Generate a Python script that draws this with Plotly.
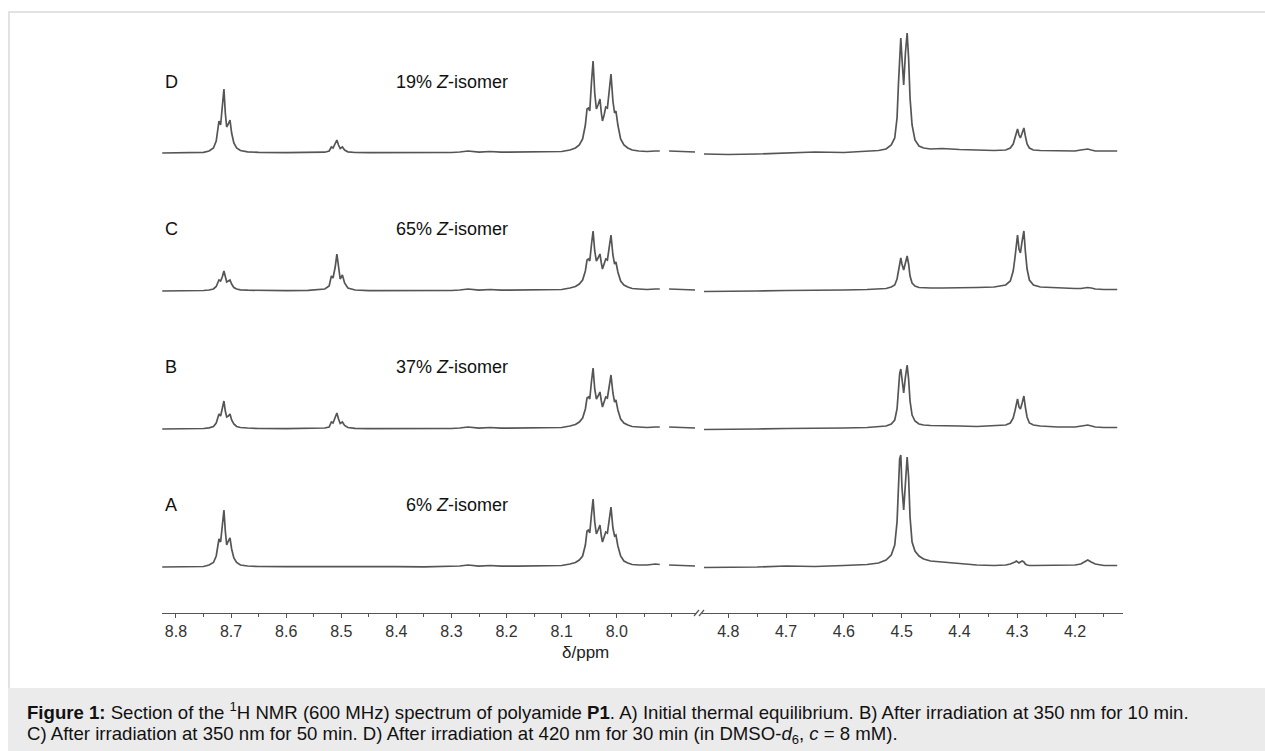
import plotly.graph_objects as go

# ---------------- data ----------------
spectrum_names = ["A", "B", "C", "D"]
isomer_labels = ["6% <i>Z</i>-isomer", "37% <i>Z</i>-isomer", "65% <i>Z</i>-isomer", "19% <i>Z</i>-isomer"]

# aromatic region (left panel), chemical shift in ppm (None = small gap in the trace)
left_ppm = [
    8.825, 8.80, 8.77, 8.75,
    8.74, 8.732, 8.727, 8.724, 8.722, 8.719, 8.716, 8.713, 8.7105, 8.708, 8.705, 8.702, 8.699, 8.695, 8.690, 8.683, 8.67,
    8.65, 8.60, 8.56,
    8.53, 8.522, 8.518, 8.515, 8.511, 8.508, 8.505, 8.502, 8.498, 8.494, 8.488, 8.475,
    8.45, 8.40, 8.35, 8.30, 8.285, 8.27, 8.25, 8.23, 8.21, 8.18, 8.14,
    8.10, 8.085, 8.075, 8.068, 8.062, 8.057, 8.054, 8.0515, 8.049, 8.046, 8.043, 8.040, 8.037, 8.034, 8.0305,
    8.028, 8.026, 8.023, 8.020, 8.017, 8.0135, 8.0105, 8.007, 8.004, 8.0015, 7.998, 7.993, 7.987, 7.980, 7.972,
    7.96, 7.945, 7.93, 7.922,
    None, 7.905, 7.89, 7.875, 7.858,
]
A_left = [
    0, 0, 0.3, 0.5,
    2, 4.5, 11, 22, 28, 25, 40, 57, 36, 22, 26, 29, 18, 9, 4.5, 2, 1,
    0.5, 0.3, 0.4,
    0.5, 0.6, 0.8, 1, 1, 1.2, 1, 0.8, 0.6, 0.5, 0.4, 0.3,
    0.3, 0.3, 0.2, 0.5, 1, 2, 0.8, 1.5, 0.8, 0.8, 1,
    1.5, 3, 4.5, 7, 11, 22, 36, 37, 34, 52, 68, 45, 33, 37, 42,
    31, 25, 30, 35, 34, 50, 60, 39, 31, 32, 21, 11, 6, 4, 2.5,
    2, 2, 3, 2.5,
    None, 2, 1.5, 1.5, 1,
]
B_left = [
    0, 0, 0.3, 0.5,
    1.2, 2.5, 6, 12, 15, 13, 20, 28, 18, 12, 13, 15, 9, 5, 2.5, 1.5, 1,
    0.5, 0.3, 0.5,
    1, 2, 7, 6, 11, 16, 10, 5.5, 7, 3.5, 1.5, 0.6,
    0.3, 0.3, 0.2, 0.5, 1, 2, 0.8, 1.5, 0.8, 0.8, 1,
    1.5, 3, 4.5, 7, 11, 20, 31, 32, 30, 47, 61, 40, 30, 33, 37,
    28, 22, 27, 32, 31, 45, 54, 36, 27, 29, 19, 10, 6, 4, 2.5,
    2, 1.5, 2, 2,
    None, 2, 1.5, 1.5, 1,
]
C_left = [
    0, 0, 0.3, 0.5,
    1, 2, 4.5, 9, 11, 10, 14, 20, 13, 9, 10, 11, 7, 3.5, 2, 1.2, 0.8,
    0.5, 0.4, 0.6,
    2, 5, 15, 13, 24, 37, 22, 12, 16, 8, 3, 1,
    0.3, 0.3, 0.2, 0.5, 1, 2, 0.8, 1.5, 0.8, 0.8, 1,
    1.5, 3, 4.5, 7, 11, 20, 31, 32, 30, 46, 60, 40, 30, 33, 37,
    28, 22, 27, 32, 31, 46, 56, 36, 27, 29, 19, 10, 6, 4, 2.5,
    2, 1.5, 2, 2,
    None, 2, 1.5, 1.5, 1,
]
D_left = [
    0, 0, 0.3, 0.6,
    2, 5, 12, 25, 32, 28, 45, 64, 40, 26, 29, 33, 20, 10, 5, 2.5, 1.2,
    0.6, 0.3, 0.5,
    0.8, 2, 6, 5, 9, 13, 8, 4.5, 6, 3, 1.2, 0.5,
    0.3, 0.3, 0.2, 0.5, 1, 2, 0.8, 1.5, 0.8, 0.8, 1,
    1.5, 3, 5, 8, 14, 28, 44, 45, 42, 70, 92, 60, 44, 48, 54,
    40, 32, 38, 46, 45, 66, 79, 52, 40, 42, 28, 14, 8, 5, 3,
    2, 1.5, 2, 2,
    None, 2, 1.5, 1.5, 1,
]

# aliphatic region (right panel)
right_ppm = [
    4.842, 4.80, 4.75, 4.70, 4.65, 4.60, 4.56, 4.54,
    4.527, 4.518, 4.512, 4.508, 4.5055, 4.5035, 4.5015, 4.4995, 4.4965, 4.4935, 4.4905, 4.488, 4.4855, 4.482, 4.477, 4.470, 4.462,
    4.45, 4.43, 4.40, 4.37, 4.34, 4.32,
    4.312, 4.307, 4.304, 4.3015, 4.2995, 4.297, 4.2945, 4.2915, 4.2885, 4.286, 4.283, 4.279, 4.272,
    4.26, 4.23, 4.20, 4.19, 4.183, 4.178, 4.172, 4.165, 4.15, 4.127,
]
A_right = [
    -0.5, -0.5, 0, 1, 0.5, 1.5, 2.5, 4,
    7, 12, 22, 45, 80, 108, 112, 80, 57, 85, 110, 90, 50, 25, 16, 11, 8,
    6, 5, 3, 2, 1.5, 2,
    3, 4, 5, 6, 5, 4, 5, 6, 5, 3, 2, 1.5, 1.5,
    1.5, 1.5, 2, 3, 5, 7, 5, 3, 1.5, 1.5,
]
B_right = [
    -0.5, -0.5, 0, 0.5, 0.5, 1, 1.5, 2,
    3, 5, 9, 20, 40, 55, 60, 48, 36, 52, 64, 50, 28, 14, 8, 5, 4,
    3.5, 3, 3, 2.5, 3, 4,
    6, 11, 18, 27, 30, 22, 20, 26, 33, 22, 12, 6, 4,
    3, 2, 2, 2.5, 3.5, 4, 3, 2, 1.5, 1.5,
]
C_right = [
    -0.5, -0.5, 0, 0.5, 0.5, 1, 1.5, 2,
    2.5, 4, 6, 12, 22, 30, 33, 27, 21, 28, 35, 27, 15, 8, 5, 3.5, 3,
    3, 3, 3, 3.5, 4, 6,
    10, 20, 33, 50, 56, 42, 38, 50, 60, 40, 22, 11, 6,
    4, 3, 2.5, 2.5, 3, 3.5, 3, 2, 1.5, 1.5,
]
D_right = [
    -1, -1.5, -1, 0, 1, 0.5, 1.5, 2.5,
    4, 8, 15, 35, 70, 100, 115, 95, 68, 100, 120, 95, 55, 28, 13, 7, 5,
    4, 4.5, 3.5, 3, 2.5, 3,
    5, 9, 15, 22, 24, 18, 15, 20, 25, 17, 9, 5, 3,
    2.5, 2, 2, 3, 4, 4, 3, 2, 2, 2,
]

left_ticks = [8.8, 8.7, 8.6, 8.5, 8.4, 8.3, 8.2, 8.1, 8.0]
right_ticks = [4.8, 4.7, 4.6, 4.5, 4.4, 4.3, 4.2]

caption_line1 = ("<b>Figure 1:</b> Section of the <sup>1</sup>H NMR (600 MHz) spectrum of polyamide <b>P1</b>. "
                 "A) Initial thermal equilibrium. B) After irradiation at 350 nm for 10 min.")
caption_line2 = ("C) After irradiation at 350 nm for 50 min. D) After irradiation at 420 nm for 30 min "
                 "(in DMSO-<i>d</i><sub>6</sub>, <i>c</i> = 8 mM).")

# ---------------- layout constants ----------------
W, H = 1265, 751
FONT = "Liberation Sans, Arial, Helvetica, sans-serif"
LINE = "#555555"
STACK_BASE = 46      # vertical offset of the lowest trace (y units = px)
STACK_STEP = 138     # spacing between stacked spectra
LABEL_LIFT = [62, 62, 62, 71]

def px(x):
    return x / W

def py(y):
    return 1 - y / H

left_vals = [A_left, B_left, C_left, D_left]
right_vals = [A_right, B_right, C_right, D_right]

def shift(vals, off):
    return [None if v is None else v + off for v in vals]

fig = go.Figure()
for i, name in enumerate(spectrum_names):
    off = STACK_BASE + i * STACK_STEP
    fig.add_trace(go.Scatter(x=left_ppm, y=shift(left_vals[i], off), mode="lines", connectgaps=False,
                             line=dict(color=LINE, width=1.7), xaxis="x", yaxis="y",
                             showlegend=False, hoverinfo="skip"))
    fig.add_trace(go.Scatter(x=right_ppm, y=shift(right_vals[i], off), mode="lines",
                             line=dict(color=LINE, width=1.7), xaxis="x2", yaxis="y",
                             showlegend=False, hoverinfo="skip"))

axis_common = dict(showline=True, linecolor=LINE, linewidth=1.2, ticks="outside", ticklen=4,
                   tickcolor=LINE, tickwidth=1, showgrid=False, zeroline=False,
                   tickfont=dict(family=FONT, size=16, color="#333"),
                   minor=dict(ticks="outside", ticklen=3, tickcolor=LINE, dtick=0.05, showgrid=False),
                   fixedrange=True)

fig.update_layout(
    width=W, height=H, margin=dict(l=0, r=0, t=0, b=0),
    paper_bgcolor="white", plot_bgcolor="rgba(0,0,0,0)",
    xaxis=dict(domain=[px(162), px(696)], range=[8.8254, 7.8562], anchor="y",
               tickvals=left_ticks, ticktext=[f"{t:.1f}" for t in left_ticks], **axis_common),
    xaxis2=dict(domain=[px(702), px(1123)], range=[4.8455, 4.1170], anchor="y",
                tickvals=right_ticks, ticktext=[f"{t:.1f}" for t in right_ticks], **axis_common),
    yaxis=dict(domain=[py(613), py(12)], range=[0, 601], visible=False, fixedrange=True),
)

ann = []
for i, name in enumerate(spectrum_names):
    yv = STACK_BASE + i * STACK_STEP + LABEL_LIFT[i]
    ann.append(dict(x=px(163), y=yv, xref="paper", yref="y", text=name, showarrow=False,
                    xanchor="left", yanchor="middle", font=dict(family=FONT, size=18, color="#111")))
    ann.append(dict(x=px(510), y=yv, xref="paper", yref="y", text=isomer_labels[i], showarrow=False,
                    xanchor="right", yanchor="middle", font=dict(family=FONT, size=18, color="#111")))
ann.append(dict(x=px(585), y=py(652), xref="paper", yref="paper", text="δ/ppm", showarrow=False,
                xanchor="center", yanchor="middle", font=dict(family=FONT, size=17, color="#222")))
ann.append(dict(x=px(25), y=py(711), xref="paper", yref="paper", text=caption_line1, showarrow=False,
                xanchor="left", yanchor="middle", font=dict(family=FONT, size=18.6, color="#111")))
ann.append(dict(x=px(25), y=py(735), xref="paper", yref="paper", text=caption_line2, showarrow=False,
                xanchor="left", yanchor="middle", font=dict(family=FONT, size=18.6, color="#111")))

shapes = [
    dict(type="rect", xref="paper", yref="paper", x0=px(8), x1=1, y0=0, y1=py(688),
         fillcolor="#ebebeb", line=dict(width=0), layer="below"),
    dict(type="line", xref="paper", yref="paper", x0=px(8), x1=1, y0=py(12), y1=py(12),
         line=dict(color="#e2e2e2", width=2)),
    dict(type="line", xref="paper", yref="paper", x0=px(9), x1=px(9), y0=py(12), y1=py(688),
         line=dict(color="#e2e2e2", width=2)),
    # axis break marks
    dict(type="line", xref="paper", yref="paper", x0=px(694), x1=px(699), y0=py(616), y1=py(610),
         line=dict(color=LINE, width=1.2)),
    dict(type="line", xref="paper", yref="paper", x0=px(699), x1=px(704), y0=py(616), y1=py(610),
         line=dict(color=LINE, width=1.2)),
]
fig.update_layout(annotations=ann, shapes=shapes)

fig.write_html("out.html")
